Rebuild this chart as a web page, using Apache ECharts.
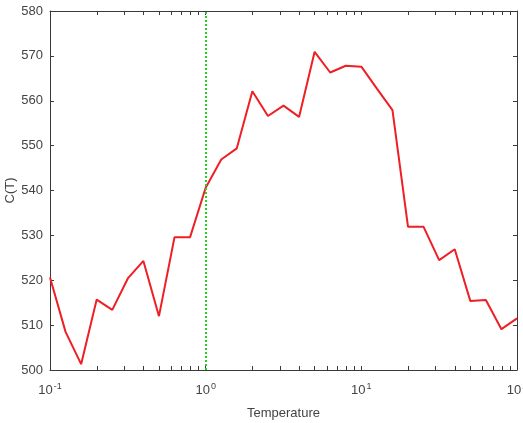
<html>
<head>
<meta charset="UTF-8" />
<script src="https://cdn.jsdelivr.net/npm/echarts@6/dist/echarts.min.js"></script>
</head>
<style type="text/css">
    *{
        margin: 0;
        padding: 0;
    }
    body{
        background: #fff;
    }
    #chart{
        width: 523px;
        height: 423px;
    }
</style>
<body>
<div id="chart"></div>
<script type="text/javascript">
    // temperatures (log spaced) and C(T)
    var temps = [0.1, 0.1259, 0.1585, 0.1995, 0.2512, 0.3162, 0.3981, 0.5012, 0.631, 0.7943,
        1, 1.259, 1.585, 1.995, 2.512, 3.162, 3.981, 5.012, 6.31, 7.943,
        10, 12.59, 15.85, 19.95, 25.12, 31.62, 39.81, 50.12, 63.1, 79.43, 100];
    var cValues = [520.6, 508.5, 501.3, 515.7, 513.4, 520.4, 524.3, 512.0, 529.6, 529.6,
        540.6, 546.9, 549.4, 562.1, 556.6, 558.9, 556.4, 570.9, 566.3, 567.8,
        567.6, 562.7, 557.9, 531.9, 531.9, 524.5, 526.9, 515.4, 515.6, 509.1, 511.5];
    var xLabelValues = [0.1, 1, 10, 100];
    var xTickValues = [];
    [0.1, 1, 10].forEach(function (d) {
        for (var m = 1; m < 10; m++) { xTickValues.push(+(d * m).toPrecision(3)); }
    });
    xTickValues.push(100);
    var markT = 1;

    var pairs = [];
    for (var i = 0; i < temps.length; i++) {
        pairs.push([temps[i], cValues[i]]);
    }

    var axisColor = '#3a3a3a';
    var textColor = '#444';
    var font = 'Liberation Sans, Arial, sans-serif';

    function expLabel(v) {
        var e = Math.round(Math.log(v) / Math.LN10);
        return '{b|10}{s|' + e + '}';
    }

    var myChart = echarts.init(document.getElementById('chart'));
    var option = {
        animation: false,
        grid: { left: 50, right: 6, top: 11, bottom: 53, containLabel: false, outerBoundsMode: 'none' },
        xAxis: [{
            type: 'log',
            logBase: 10,
            min: 0.1,
            max: 100,
            name: 'Temperature',
            nameLocation: 'middle',
            nameGap: 37,
            nameMoveOverlap: false,
            nameTextStyle: { color: textColor, fontSize: 13, fontFamily: font },
            axisLine: { lineStyle: { color: axisColor, width: 1 } },
            axisTick: { inside: true, length: 4, customValues: xTickValues, lineStyle: { color: axisColor } },
            axisLabel: {
                customValues: xLabelValues,
                formatter: expLabel,
                margin: 12,
                color: textColor,
                fontFamily: font,
                hideOverlap: false,
                rich: {
                    b: { fontSize: 13, color: textColor, fontFamily: font },
                    s: { fontSize: 9, color: textColor, fontFamily: font, verticalAlign: 'bottom', padding: [0, 0, 8, 1] }
                }
            },
            splitLine: { show: false }
        }, {
            type: 'log',
            logBase: 10,
            min: 0.1,
            max: 100,
            position: 'top',
            axisLine: { lineStyle: { color: axisColor, width: 1 } },
            axisTick: { inside: true, length: 4, customValues: xTickValues, lineStyle: { color: axisColor } },
            axisLabel: { show: false },
            splitLine: { show: false }
        }],
        yAxis: [{
            type: 'value',
            min: 500,
            max: 580,
            interval: 10,
            name: 'C(T)',
            nameLocation: 'middle',
            nameGap: 33,
            nameMoveOverlap: false,
            nameTextStyle: { color: textColor, fontSize: 13, fontFamily: font },
            axisLine: { show: true, lineStyle: { color: axisColor, width: 1 } },
            axisTick: { show: true, inside: true, length: 4, lineStyle: { color: axisColor } },
            axisLabel: { color: textColor, fontSize: 13, fontFamily: font, margin: 7 },
            splitLine: { show: false }
        }, {
            type: 'value',
            min: 500,
            max: 580,
            interval: 10,
            position: 'right',
            axisLine: { show: true, lineStyle: { color: axisColor, width: 1 } },
            axisTick: { show: true, inside: true, length: 4, lineStyle: { color: axisColor } },
            axisLabel: { show: false },
            splitLine: { show: false }
        }],
        series: [{
            type: 'line',
            data: pairs,
            showSymbol: false,
            symbol: 'none',
            lineStyle: { color: '#ee1f25', width: 2 },
            itemStyle: { color: '#ee1f25' },
            markLine: {
                silent: true,
                symbol: 'none',
                label: { show: false },
                lineStyle: { color: '#1fd61f', type: [2, 2], width: 2 },
                data: [{ xAxis: markT }]
            }
        }]
    };
    myChart.setOption(option);
</script>
</body>
</html>
